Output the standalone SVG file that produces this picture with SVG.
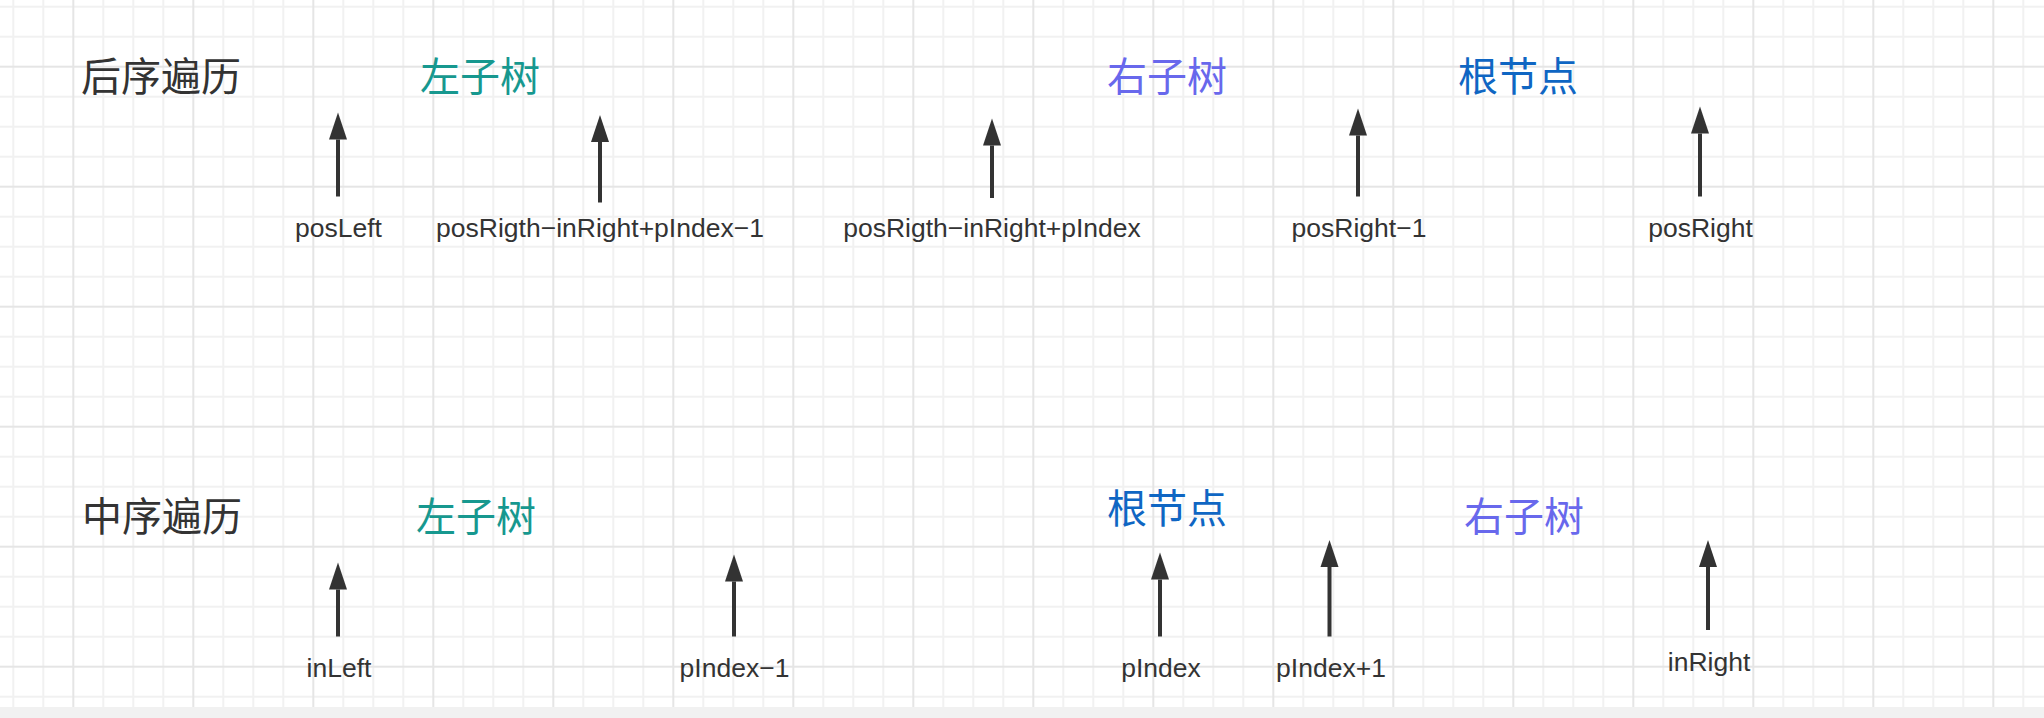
<svg xmlns="http://www.w3.org/2000/svg" width="2044" height="718" viewBox="0 0 2044 718">
<style>
.title{font-family:"Noto Sans CJK SC","Noto Sans",sans-serif;font-size:40px;}
.dark{fill:#333333;}
.teal{fill:#17988f;}
.purple{fill:#6868ec;}
.blue{fill:#0f66c3;}
.lbl{font-family:"Liberation Sans",Arial,sans-serif;font-size:26.5px;fill:#333333;text-anchor:middle;}
.arr{stroke:#333333;stroke-width:4;fill:none;marker-end:url(#ah);}
</style>
<defs>
<pattern id="grid" patternUnits="userSpaceOnUse" x="12.3" y="5.7" width="120" height="120">
<rect x="0" y="0" width="120" height="2" fill="#f1f1f1"/>
<rect x="0" y="30" width="120" height="2" fill="#f1f1f1"/>
<rect x="0" y="90" width="120" height="2" fill="#f1f1f1"/>
<rect x="0" y="0" width="2" height="120" fill="#f1f1f1"/>
<rect x="30" y="0" width="2" height="120" fill="#f1f1f1"/>
<rect x="90" y="0" width="2" height="120" fill="#f1f1f1"/>
<rect x="0" y="60" width="120" height="2" fill="#e5e5e5"/>
<rect x="60" y="0" width="2" height="120" fill="#e5e5e5"/>
</pattern>
<marker id="ah" markerUnits="userSpaceOnUse" markerWidth="28" markerHeight="20" viewBox="0 0 28 20" refX="0" refY="10" orient="auto">
<path d="M0,1 L27,10 L0,19 z" fill="#333333"/>
</marker>
</defs>
<rect x="0" y="0" width="2044" height="718" fill="#ffffff"/>
<rect x="0" y="0" width="2044" height="707" fill="url(#grid)"/>
<rect x="0" y="707" width="2044" height="11" fill="#f1f1f1"/>

<g id="title-postorder"><text class="title dark" x="81" y="91">后序遍历</text></g>
<g id="post-left"><text class="title teal" x="420" y="91">左子树</text></g>
<g id="post-right"><text class="title purple" x="1107" y="91">右子树</text></g>
<g id="post-root"><text class="title blue" x="1458" y="91">根节点</text></g>

<g id="title-inorder"><text class="title dark" x="82" y="531">中序遍历</text></g>
<g id="in-left"><text class="title teal" x="416" y="531">左子树</text></g>
<g id="in-root"><text class="title blue" x="1107" y="523">根节点</text></g>
<g id="in-right"><text class="title purple" x="1464" y="531">右子树</text></g>

<g id="lbl-posLeft"><text class="lbl" x="338.5" y="237">posLeft</text></g>
<g id="lbl-posLeftEnd"><text class="lbl" x="600" y="237">posRigth−inRight+pIndex−1</text></g>
<g id="lbl-posRightStart"><text class="lbl" x="992" y="237">posRigth−inRight+pIndex</text></g>
<g id="lbl-posRight1"><text class="lbl" x="1359" y="237">posRight−1</text></g>
<g id="lbl-posRight"><text class="lbl" x="1700.5" y="237">posRight</text></g>

<g id="lbl-inLeft"><text class="lbl" x="339" y="677">inLeft</text></g>
<g id="lbl-pIndex1"><text class="lbl" x="734.5" y="677">pIndex−1</text></g>
<g id="lbl-pIndex"><text class="lbl" x="1161" y="677">pIndex</text></g>
<g id="lbl-pIndexPlus"><text class="lbl" x="1331" y="677">pIndex+1</text></g>
<g id="lbl-inRight"><text class="lbl" x="1709" y="671">inRight</text></g>

<g id="connectors">
<path class="arr" d="M338,196.5 L338,139.5"/>
<path class="arr" d="M600,202.5 L600,142"/>
<path class="arr" d="M992,198 L992,145.5"/>
<path class="arr" d="M1358,196.5 L1358,135.5"/>
<path class="arr" d="M1700,196.5 L1700,133.5"/>
<path class="arr" d="M338,636.5 L338,589.5"/>
<path class="arr" d="M734,636.5 L734,581.5"/>
<path class="arr" d="M1160,636.5 L1160,579.5"/>
<path class="arr" d="M1329.5,636.5 L1329.5,567"/>
<path class="arr" d="M1708,630 L1708,567"/>
</g>
</svg>
